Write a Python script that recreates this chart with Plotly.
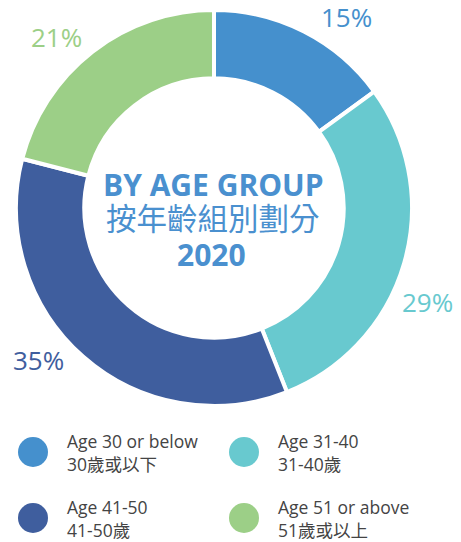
import math
import plotly.graph_objects as go

# ---- data ----
groups_en = ["Age 30 or below", "Age 31-40", "Age 41-50", "Age 51 or above"]
groups_zh = ["30歲或以下", "31-40歲", "41-50歲", "51歲或以上"]
shares = [15, 29, 35, 21]
title_lines = ["BY AGE GROUP", "按年齡組別劃分", "2020"]

# ---- style ----
colors = ["#4590CD", "#68C9CF", "#3F5E9E", "#9CCF87"]
title_color = "#4A90CF"
text_color = "#444444"
W, H = 461, 542
cx, cy, R = 214, 208, 198
hole = 0.655
label_r = 1.175
label_angle_offset = [7.6, 7.5, 7.7, -4.8]
font_lat = "Open Sans, Noto Sans CJK TC, sans-serif"

fig = go.Figure()

fig.add_trace(go.Pie(
    values=shares,
    labels=groups_en,
    hole=hole,
    sort=False,
    direction="clockwise",
    rotation=0,
    marker=dict(colors=colors, line=dict(color="white", width=4)),
    textinfo="none",
    hoverinfo="skip",
    showlegend=False,
    domain=dict(
        x=[(cx - R) / W, (cx + R) / W],
        y=[1 - (cy + R) / H, 1 - (cy - R) / H],
    ),
))

annotations = []
# percentage labels computed from slice angles
total = sum(shares)
cum = 0
for i, v in enumerate(shares):
    mid = 360 * (cum + v / 2) / total + label_angle_offset[i]
    cum += v
    a = math.radians(mid)
    x = cx + label_r * R * math.sin(a)
    y = cy - label_r * R * math.cos(a)
    annotations.append(dict(
        x=x, y=y, xref="x", yref="y", text=f"{v}%", showarrow=False,
        font=dict(family=font_lat, size=26, color=colors[i]),
        xanchor="center", yanchor="middle",
    ))

# centre title
annotations.append(dict(x=cx - 1, y=184, xref="x", yref="y", text=f"<b>{title_lines[0]}</b>",
                        showarrow=False, font=dict(family=font_lat, size=30, color=title_color)))
annotations.append(dict(x=cx - 1, y=217, xref="x", yref="y", text=title_lines[1],
                        showarrow=False, font=dict(family="Noto Sans CJK TC, sans-serif", size=30.5, color=title_color)))
annotations.append(dict(x=cx - 3, y=254, xref="x", yref="y", text=f"<b>{title_lines[2]}</b>",
                        showarrow=False, font=dict(family=font_lat, size=30, color=title_color)))

# custom legend
leg_mx = [33, 244, 33, 244]
leg_my = [452, 452, 518, 518]
leg_tx = [65, 276, 65, 276]
fig.add_trace(go.Scatter(
    x=leg_mx, y=leg_my, mode="markers",
    marker=dict(size=30, color=colors, line=dict(width=0)),
    hoverinfo="skip", showlegend=False,
))
for i in range(len(groups_en)):
    annotations.append(dict(
        x=leg_tx[i], y=leg_my[i], xref="x", yref="y",
        text=f"{groups_en[i]}<br>{groups_zh[i]}", showarrow=False,
        xanchor="left", yanchor="middle", align="left",
        font=dict(family=font_lat, size=17.5, color=text_color),
    ))

fig.update_layout(
    width=W, height=H,
    margin=dict(l=0, r=0, t=0, b=0),
    paper_bgcolor="white", plot_bgcolor="rgba(0,0,0,0)",
    xaxis=dict(range=[0, W], visible=False, fixedrange=True),
    yaxis=dict(range=[H, 0], visible=False, fixedrange=True),
    annotations=annotations,
    hovermode=False,
)

fig.write_html("out.html", config={"displayModeBar": False, "staticPlot": True},
               post_script="document.body.style.margin='0';")
